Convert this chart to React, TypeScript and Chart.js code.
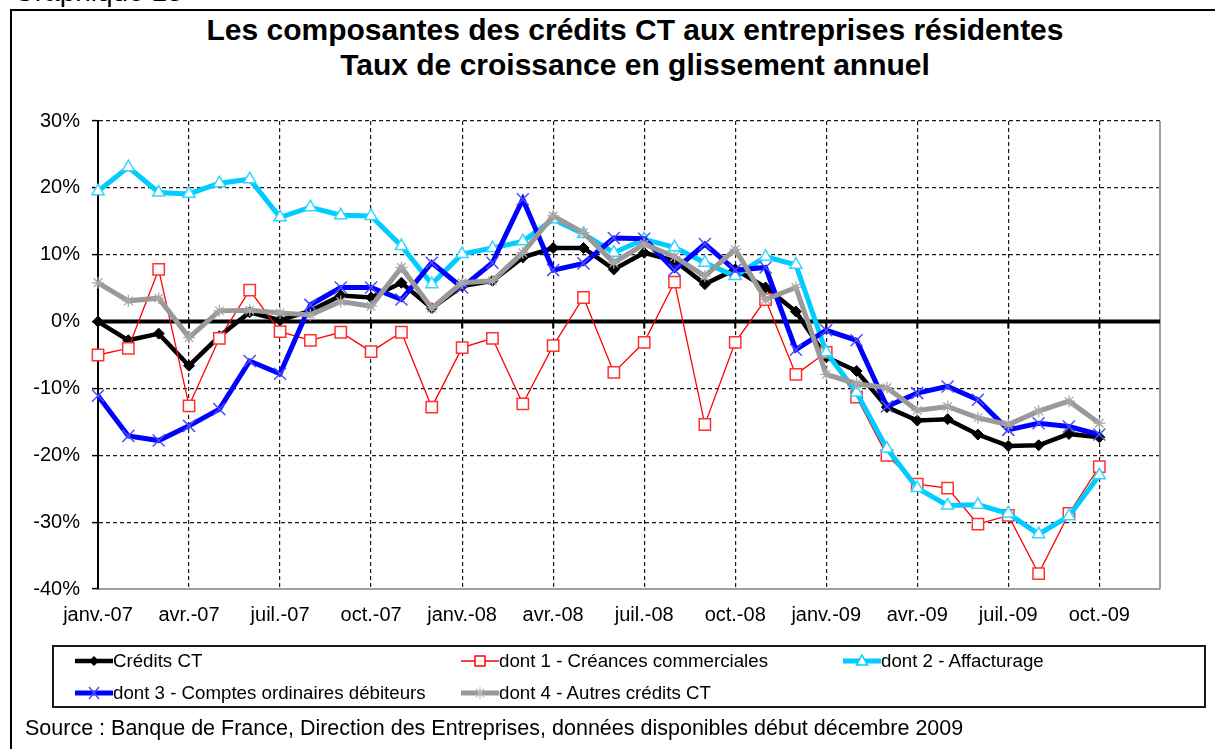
import React, { useEffect, useRef } from 'react';
import { Chart, registerables } from 'chart.js';

Chart.register(...registerables);

const categories = [
  'janv.-07', 'févr.-07', 'mars-07', 'avr.-07', 'mai-07', 'juin-07', 'juil.-07', 'août-07', 'sept.-07', 'oct.-07', 'nov.-07', 'déc.-07',
  'janv.-08', 'févr.-08', 'mars-08', 'avr.-08', 'mai-08', 'juin-08', 'juil.-08', 'août-08', 'sept.-08', 'oct.-08', 'nov.-08', 'déc.-08',
  'janv.-09', 'févr.-09', 'mars-09', 'avr.-09', 'mai-09', 'juin-09', 'juil.-09', 'août-09', 'sept.-09', 'oct.-09', 'nov.-09', 'déc.-09',
];

const creditsCT = [0.0, -2.8, -1.8, -6.6, -2.2, 1.4, 0.2, 1.6, 3.9, 3.6, 5.8, 2.0, 5.3, 6.1, 9.6, 11.0, 11.0, 7.8, 10.3, 9.1, 5.6, 7.8, 5.1, 1.5, -5.3, -7.4, -12.8, -14.8, -14.6, -16.9, -18.6, -18.5, -16.8, -17.3];
const creances = [-5.0, -4.0, 7.8, -12.6, -2.5, 4.7, -1.5, -2.8, -1.6, -4.5, -1.6, -12.8, -3.9, -2.5, -12.3, -3.6, 3.6, -7.6, -3.1, 5.9, -15.4, -3.1, 3.3, -7.9, -4.6, -11.3, -20.0, -24.3, -24.9, -30.3, -29.0, -37.7, -28.7, -21.7];
const affacturage = [19.5, 23.1, 19.3, 19.1, 20.7, 21.3, 15.6, 17.1, 15.9, 15.8, 11.3, 5.6, 10.1, 11.0, 12.0, 15.3, 13.1, 10.3, 12.3, 11.1, 8.8, 6.8, 9.7, 8.5, -4.6, -10.6, -19.0, -24.9, -27.5, -27.4, -28.7, -31.8, -29.1, -23.0];
const comptes = [-11.1, -17.1, -17.8, -15.6, -13.1, -5.9, -7.8, 2.5, 5.1, 5.1, 3.3, 8.8, 5.1, 8.8, 18.3, 7.7, 8.7, 12.5, 12.4, 7.7, 11.6, 7.7, 8.1, -4.2, -1.3, -2.8, -12.7, -10.7, -9.7, -11.7, -16.2, -15.2, -15.7, -16.9];
const autres = [5.8, 3.1, 3.5, -2.4, 1.6, 1.7, 1.3, 1.0, 3.0, 2.3, 8.1, 2.0, 5.8, 6.1, 10.3, 15.8, 13.3, 8.8, 11.6, 9.7, 6.8, 10.8, 3.3, 5.1, -7.9, -9.3, -9.9, -13.3, -12.7, -14.4, -15.4, -13.4, -11.9, -15.2];

const yMin = -40;
const yMax = 30;
const yStep = 10;

const seriesNames = [
  'Crédits CT',
  'dont 1 - Créances commerciales',
  'dont 2 - Affacturage',
  'dont 3 - Comptes ordinaires débiteurs',
  'dont 4 - Autres crédits CT',
];

const FONT = '"Liberation Sans", Arial, Helvetica, sans-serif';

const COL_BLACK = '#000000';
const COL_RED = '#ff0000';
const COL_CYAN = '#00ccff';
const COL_BLUE = '#0000ff';
const COL_GRAY = '#999999';

function Marker({ kind }: { kind: number }) {
  const w = 38;
  const h = 16;
  const cy = h / 2;
  const cx = w / 2;
  if (kind === 0) {
    return (
      <svg width={w} height={h}>
        <line x1={0} y1={cy} x2={w} y2={cy} stroke={COL_BLACK} strokeWidth={4.5} />
        <polygon points={`${cx},${cy - 5} ${cx + 5},${cy} ${cx},${cy + 5} ${cx - 5},${cy}`} fill={COL_BLACK} />
      </svg>
    );
  }
  if (kind === 1) {
    return (
      <svg width={w} height={h}>
        <line x1={0} y1={cy} x2={w} y2={cy} stroke={COL_RED} strokeWidth={1.3} />
        <rect x={cx - 5} y={cy - 5} width={10} height={10} fill="#fff" stroke={COL_RED} strokeWidth={1.5} />
      </svg>
    );
  }
  if (kind === 2) {
    return (
      <svg width={w} height={h}>
        <line x1={0} y1={cy} x2={w} y2={cy} stroke={COL_CYAN} strokeWidth={5} />
        <polygon points={`${cx},${cy - 6} ${cx + 5.5},${cy + 4} ${cx - 5.5},${cy + 4}`} fill="#fff" stroke={COL_CYAN} strokeWidth={1.5} />
      </svg>
    );
  }
  if (kind === 3) {
    return (
      <svg width={w} height={h}>
        <line x1={0} y1={cy} x2={w} y2={cy} stroke={COL_BLUE} strokeWidth={5} />
        <line x1={cx - 5} y1={cy - 6} x2={cx + 5} y2={cy + 6} stroke="#4d4dff" strokeWidth={1.5} />
        <line x1={cx - 5} y1={cy + 6} x2={cx + 5} y2={cy - 6} stroke="#4d4dff" strokeWidth={1.5} />
      </svg>
    );
  }
  return (
    <svg width={w} height={h}>
      <line x1={0} y1={cy} x2={w} y2={cy} stroke={COL_GRAY} strokeWidth={5} />
      <line x1={cx} y1={cy - 6} x2={cx} y2={cy + 6} stroke="#bbbbbb" strokeWidth={1.2} />
      <line x1={cx - 4} y1={cy - 4} x2={cx + 4} y2={cy + 4} stroke="#bbbbbb" strokeWidth={1.2} />
      <line x1={cx - 4} y1={cy + 4} x2={cx + 4} y2={cy - 4} stroke="#bbbbbb" strokeWidth={1.2} />
    </svg>
  );
}

const legendPos = [
  { col: 0, row: 0 },
  { col: 1, row: 0 },
  { col: 2, row: 0 },
  { col: 0, row: 1 },
  { col: 1, row: 1 },
];
const legendColX = [75, 461, 843];
const legendRowY = [661, 693];

export default function App() {
  const ref = useRef<HTMLCanvasElement>(null);

  useEffect(() => {
    if (!ref.current) return;

    const framePlugin = {
      id: 'framePlugin',
      beforeDatasetsDraw(chart: any) {
        const { ctx, chartArea: a, scales } = chart;
        const x = scales.x;
        const y = scales.y;
        const y0 = y.getPixelForValue(0);
        ctx.save();
        ctx.setLineDash([]);
        ctx.strokeStyle = '#a0a0a0';
        ctx.lineWidth = 2;
        ctx.beginPath();
        ctx.moveTo(a.right, a.top);
        ctx.lineTo(a.right, a.bottom);
        ctx.stroke();
        ctx.strokeStyle = '#000';
        ctx.lineWidth = 4;
        ctx.beginPath();
        ctx.moveTo(a.left, y0);
        ctx.lineTo(a.right, y0);
        ctx.stroke();
        ctx.lineWidth = 2;
        for (let i = 3; i < categories.length - 1; i += 3) {
          const px = x.getPixelForValue(i);
          ctx.beginPath();
          ctx.moveTo(px, y0);
          ctx.lineTo(px, y0 + 7);
          ctx.stroke();
        }
        ctx.restore();
      },
    };

    const chart = new Chart(ref.current, {
      type: 'line',
      data: {
        labels: categories,
        datasets: [
          {
            label: seriesNames[0],
            data: creditsCT,
            borderColor: COL_BLACK,
            backgroundColor: COL_BLACK,
            borderWidth: 4.5,
            pointStyle: 'rectRot',
            pointRadius: 5.5,
            pointBorderWidth: 1,
            pointBorderColor: COL_BLACK,
            pointBackgroundColor: COL_BLACK,
            tension: 0,
            order: 4,
          },
          {
            label: seriesNames[1],
            data: creances,
            borderColor: COL_RED,
            backgroundColor: '#fff',
            borderWidth: 1.3,
            pointStyle: 'rect',
            pointRadius: 8,
            pointBorderWidth: 1.5,
            pointBorderColor: '#ff3030',
            pointBackgroundColor: '#ffffff',
            tension: 0,
            order: 3,
          },
          {
            label: seriesNames[2],
            data: affacturage,
            borderColor: COL_CYAN,
            backgroundColor: '#fff',
            borderWidth: 5,
            pointStyle: 'triangle',
            pointRadius: 7,
            pointBorderWidth: 1.5,
            pointBorderColor: '#33d6ff',
            pointBackgroundColor: '#ffffff',
            tension: 0,
            order: 2,
          },
          {
            label: seriesNames[3],
            data: comptes,
            borderColor: COL_BLUE,
            backgroundColor: COL_BLUE,
            borderWidth: 5,
            pointStyle: 'crossRot',
            pointRadius: 8.5,
            pointBorderWidth: 1.5,
            pointBorderColor: '#4d4dff',
            tension: 0,
            order: 1,
          },
          {
            label: seriesNames[4],
            data: autres,
            borderColor: COL_GRAY,
            backgroundColor: COL_GRAY,
            borderWidth: 5,
            pointStyle: 'star',
            pointRadius: 6,
            pointBorderWidth: 1.3,
            pointBorderColor: '#a8a8a8',
            tension: 0,
            order: 0,
          },
        ],
      },
      options: {
        animation: false,
        responsive: false,
        maintainAspectRatio: false,
        devicePixelRatio: 1,
        layout: { padding: { left: 10, top: 121, right: 55, bottom: 120 } },
        plugins: {
          legend: { display: false },
          title: { display: false },
          tooltip: { enabled: false },
        },
        scales: {
          x: {
            type: 'category',
            offset: false,
            afterFit: (s: any) => { s.height = 40; },
            grid: {
              drawTicks: false,
              lineWidth: 1.2,
              color: (c: any) => (c.index % 3 === 0 && c.index > 0 && c.index < categories.length - 1 ? '#1a1a1a' : 'rgba(0,0,0,0)'),
            },
            border: { display: true, color: '#a0a0a0', width: 2, dash: [4, 3] },
            ticks: {
              autoSkip: false,
              maxRotation: 0,
              minRotation: 0,
              padding: 14,
              color: '#000',
              font: { family: FONT, size: 20 },
              callback: (_v: any, i: number) => (i % 3 === 0 && i < categories.length - 2 ? categories[i] : ''),
            },
          },
          y: {
            min: yMin,
            max: yMax,
            afterFit: (s: any) => { s.width = 88; },
            grid: {
              drawTicks: true,
              tickLength: 6,
              tickColor: '#000',
              tickWidth: 1.5,
              lineWidth: 1.2,
              color: (c: any) => (c.tick && (c.tick.value === yMin || c.tick.value === 0) ? 'rgba(0,0,0,0)' : '#1a1a1a'),
            },
            border: { display: true, color: '#000', width: 2, dash: [4, 3] },
            ticks: {
              stepSize: yStep,
              padding: 12,
              color: '#000',
              font: { family: FONT, size: 20 },
              callback: (v: any) => `${v}%`,
            },
          },
        },
      },
      plugins: [framePlugin],
    });

    return () => chart.destroy();
  }, []);

  return (
    <div style={{ position: 'absolute', left: 0, top: 0, width: 1215, height: 749, overflow: 'hidden', background: '#fff', fontFamily: FONT, color: '#000' }}>
      <div style={{ position: 'absolute', left: 13, top: -22, fontSize: 28, lineHeight: '28px', whiteSpace: 'nowrap' }}>Graphique 13</div>
      <div style={{ position: 'absolute', left: 10, top: 9, width: 1205, height: 2, background: '#000' }} />
      <div style={{ position: 'absolute', left: 10, top: 9, width: 2, height: 740, background: '#000' }} />
      <div style={{ position: 'absolute', left: 0, top: 12, width: 1270, textAlign: 'center', fontSize: 30, fontWeight: 'bold', lineHeight: '35px' }}>
        <div>Les composantes des crédits CT aux entreprises résidentes</div>
        <div>Taux de croissance en glissement annuel</div>
      </div>
      <canvas ref={ref} width={1215} height={749} style={{ position: 'absolute', left: 0, top: 0, width: 1215, height: 749 }} />
      <div style={{ position: 'absolute', left: 52, top: 645, width: 1150, height: 59, border: '2px solid #1a1a1a', boxSizing: 'content-box' }} />
      {legendPos.map((p, k) => (
        <div key={k} style={{ position: 'absolute', left: legendColX[p.col], top: legendRowY[p.row] - 11, height: 22, display: 'flex', alignItems: 'center', whiteSpace: 'nowrap', fontSize: 18.7 }}>
          <Marker kind={k} />
          <span>{seriesNames[k]}</span>
        </div>
      ))}
      <div style={{ position: 'absolute', left: 25, top: 715, fontSize: 21.5, lineHeight: '26px', whiteSpace: 'nowrap' }}>
        Source : Banque de France, Direction des Entreprises, données disponibles début décembre 2009
      </div>
    </div>
  );
}
